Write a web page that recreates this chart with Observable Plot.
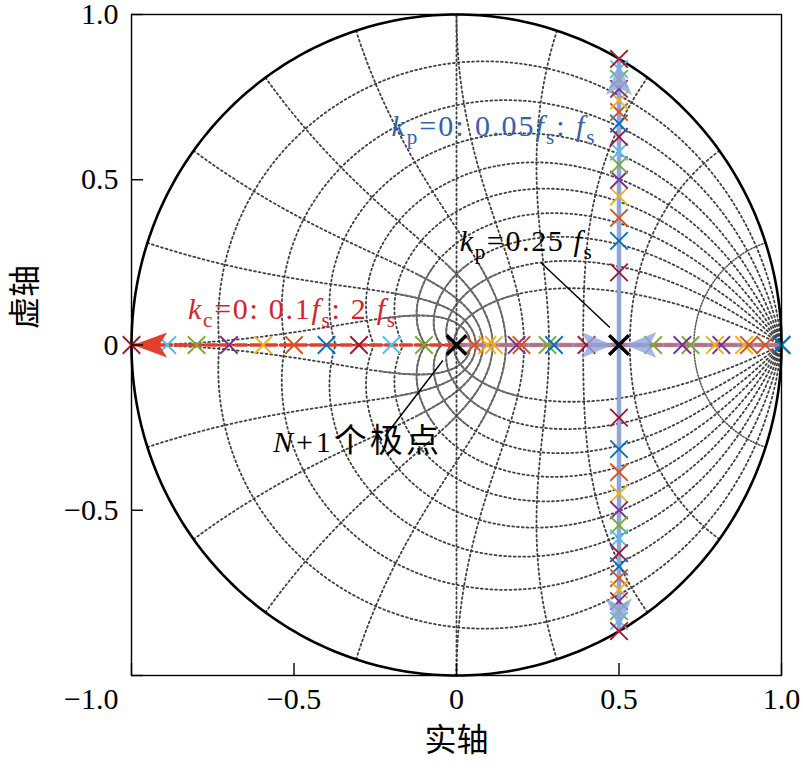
<!DOCTYPE html>
<html><head><meta charset="utf-8">
<script src="https://cdn.jsdelivr.net/npm/d3@7"></script>
<script src="https://cdn.jsdelivr.net/npm/@observablehq/plot@0.6"></script>
<style>html,body{margin:0;padding:0;background:#fff;overflow:hidden;} text{white-space:pre;}</style>
</head><body><div id="chart"></div>
<script>
// ---------------- data ----------------
const matlabColors = ["#0072BD","#D95319","#EDB120","#7E2F8E","#77AC30","#4DBEEE","#A2142F"];
// k_c = step × 0.1 f_s : one pole moving along the real axis
const kcSteps  = [0,1,2,3,4,5,6,7,8,9,10,11,12,13,14,15,16,17,18,19,20];
const kcPoleRe = [1.0,0.9,0.795,0.695,0.605,0.5,0.4,0.3,0.2,0.095,0.0,-0.1,-0.2,-0.3,-0.4,-0.5,-0.595,-0.7,-0.8,-0.89,-1.0];
// k_p = step × 0.05 f_s : two real poles, then a complex pair
const kpRealSteps = [0,1,2,3,4];
const kpRealLow   = [0.0,0.055,0.115,0.185,0.28];
const kpRealHigh  = [1.0,0.95,0.885,0.815,0.72];
const kpBreakaway = 0.5;
const kpImagSteps = [6,7,8,9,10,11,12,13,14,15,16,17,18,19,20];
const kpImag      = [0.22,0.315,0.385,0.45,0.5,0.545,0.585,0.63,0.67,0.705,0.74,0.775,0.805,0.835,0.866];
// highlighted poles (black): N+1 poles at the origin, kp = 0.25 fs
const blackRe = [0, 0.5];
const blackIm = [0, 0];
// arrowheads on the loci (tip position, direction)
const kpArrowRe  = [0.48, 0.52, 0.5, 0.5];
const kpArrowIm  = [0, 0, 0.85, -0.86];
const kpArrowDir = ["right","left","up","down"];
const kcArrowRe  = [-0.995];
const kcArrowIm  = [0];
const kcArrowDir = ["left"];
// axes
const xTicks = [-1,-0.5,0,0.5,1];
const xTickLabels = ["−1.0","−0.5","0","0.5","1.0"];
const yTicks = [-1,-0.5,0,0.5,1];
const yLabelTicks = [-0.5,0,0.5,1];
const yTickLabels = ["−0.5","0","0.5","1.0"];
// z-plane grid (zgrid) parameters
const zetaGrid = [0.1,0.2,0.3,0.4,0.5,0.6,0.7,0.8,0.9];
const wnGrid   = [0.1,0.2,0.3,0.4,0.5,0.6,0.7,0.8,0.9,1.0]; // × π/T

// ---------------- derived tables ----------------
const kcMarks = kcSteps.map((s,i) => ({x: kcPoleRe[i], y: 0, c: s % 7}));
const kpMarks = [];
kpRealSteps.forEach((s,i) => {
  kpMarks.push({x: kpRealLow[i], y: 0, c: s % 7});
  kpMarks.push({x: kpRealHigh[i], y: 0, c: s % 7});
});
kpImagSteps.forEach((s,i) => {
  kpMarks.push({x: kpBreakaway, y: kpImag[i], c: s % 7});
  kpMarks.push({x: kpBreakaway, y: -kpImag[i], c: s % 7});
});
const allMarks = kpMarks.concat(kcMarks);
const blackMarks = blackRe.map((x,i) => ({x, y: blackIm[i]}));

const kcPath = kcPoleRe.map(x => ({x, y: 0}));
const kpPath = [];
kpRealLow.concat([kpBreakaway]).forEach(x => kpPath.push({b:"low", x, y:0}));
kpRealHigh.concat([kpBreakaway]).forEach(x => kpPath.push({b:"high", x, y:0}));
[0].concat(kpImag).forEach(v => kpPath.push({b:"up", x:kpBreakaway, y:v}));
[0].concat(kpImag).forEach(v => kpPath.push({b:"down", x:kpBreakaway, y:-v}));

const kpArrows = kpArrowRe.map((x,i) => ({x, y: kpArrowIm[i], dir: kpArrowDir[i]}));
const kcArrows = kcArrowRe.map((x,i) => ({x, y: kcArrowIm[i], dir: kcArrowDir[i]}));

// grid geometry
const unitCircle = d3.range(0, 361).map(a => ({x: Math.cos(a*Math.PI/180), y: Math.sin(a*Math.PI/180)}));
const gridPts = [];
let gid = 0;
const N = 400;
for (const zeta of zetaGrid) {
  const m = zeta / Math.sqrt(1 - zeta*zeta);
  for (const sg of [1,-1]) {
    gid++;
    for (let k = 0; k <= N; k++) {
      const th = Math.PI * k / N, r = Math.exp(-m*th);
      gridPts.push({id: gid, fine: false, x: r*Math.cos(th), y: sg*r*Math.sin(th), solid: zeta > 0.55 && r < 0.25});
    }
  }
}
for (const wn of wnGrid) {
  const w = wn * Math.PI;
  for (const sg of [1,-1]) {
    gid++;
    for (let k = 0; k <= N; k++) {
      const ph = Math.PI/2 + Math.PI/2 * k / N, r = Math.exp(w*Math.cos(ph)), a = w*Math.sin(ph);
      gridPts.push({id: gid, fine: wn < 0.15, x: r*Math.cos(a), y: sg*r*Math.sin(a), solid: wn > 0.55 && r < 0.25});
    }
  }
}
const axisLines = [{id:"v", x:0, y:-1},{id:"v", x:0, y:1},{id:"h", x:-1, y:0},{id:"h", x:1, y:0}];

function arrowHead(dir, len, half, notch) {
  const a = {right: 0, left: Math.PI, up: -Math.PI/2, down: Math.PI/2}[dir];
  const ux = Math.cos(a), uy = Math.sin(a), px = -uy, py = ux;
  return {draw(ctx) {
    ctx.moveTo(0, 0);
    ctx.lineTo(-len*ux + half*px, -len*uy + half*py);
    ctx.lineTo(-(len-notch)*ux, -(len-notch)*uy);
    ctx.lineTo(-len*ux - half*px, -len*uy - half*py);
    ctx.closePath();
  }};
}

const serif = "'Liberation Serif','Times New Roman','Noto Sans CJK SC',serif";
const lav = "#8FA6DD";
const red = "#E2402D";
const W = 803, H = 774, ML = 131, MR = 22, MT = 14, MB = 99;
const PW = W - ML - MR, PH = H - MT - MB;
const FS = 30;

const chart = Plot.plot({
  width: W, height: H, marginLeft: ML, marginRight: MR, marginTop: MT, marginBottom: MB,
  x: {domain: [-1, 1], axis: null},
  y: {domain: [-1, 1], axis: null},
  color: {type: "ordinal", domain: [0,1,2,3,4,5,6], range: matlabColors},
  style: {fontFamily: serif, background: "white", overflow: "visible"},
  marks: [
    // zgrid
    Plot.line(gridPts, {filter: d => !d.fine, x: "x", y: "y", z: "id", stroke: "#404040", strokeWidth: 1.8, strokeDasharray: "1.8,3"}),
    Plot.line(gridPts, {filter: d => d.fine, x: "x", y: "y", z: "id", stroke: "#505050", strokeWidth: 1.5, strokeDasharray: "1.3,1.7"}),
    Plot.line(gridPts, {x: d => d.solid ? d.x : NaN, y: "y", z: "id", stroke: "#6a6a6a", strokeWidth: 1.7}),
    Plot.line(axisLines, {x: "x", y: "y", z: "id", stroke: "#404040", strokeWidth: 1.8, strokeDasharray: "1.8,3"}),
    Plot.line(unitCircle, {x: "x", y: "y", stroke: "black", strokeWidth: 2.6}),
    // loci
    Plot.line(kpPath, {x: "x", y: "y", z: "b", stroke: lav, strokeWidth: 4.5}),
    Plot.line(kcPath, {filter: d => d.x >= 0, x: "x", y: "y", stroke: red, strokeOpacity: 0.55, strokeWidth: 3.5, strokeDasharray: "11,4"}),
    Plot.line(kcPath, {filter: d => d.x <= 0, x: "x", y: "y", stroke: red, strokeWidth: 3.5, strokeDasharray: "11,4"}),
    // pole markers
    Plot.dot(allMarks, {x: "x", y: "y", stroke: "c", symbol: "times", r: 8, strokeWidth: 1.8}),
    // arrowheads
    ...["right","left","up","down"].map(dir => Plot.dot(kpArrows, {filter: d => d.dir === dir, x: "x", y: "y", r: 10,
        symbol: arrowHead(dir, 31, 13, 7), fill: lav, fillOpacity: 0.8})),
    Plot.dot(kcArrows, {x: "x", y: "y", r: 10, symbol: arrowHead("left", 34, 12.5, 8), fill: red}),
    Plot.dot(blackMarks, {x: "x", y: "y", stroke: "black", symbol: "times", r: 9, strokeWidth: 3.5}),
    // annotations
    Plot.link([0], {x1: 0.26, y1: 0.249, x2: 0.472, y2: 0.053, stroke: "black", strokeWidth: 1.5}),
    Plot.link([0], {x1: -0.22, y1: -0.276, x2: -0.042, y2: -0.047, stroke: "black", strokeWidth: 1.5}),
    Plot.text([0], {x: -0.826, y: 0.08, text: () => "@KC@", textAnchor: "start", lineAnchor: "bottom", fontSize: 30, fill: "#D4232B"}),
    Plot.text([0], {x: -0.2, y: 0.633, text: () => "@KP@", textAnchor: "start", lineAnchor: "bottom", fontSize: 30, fill: "#3462AA"}),
    Plot.text([0], {x: 0.01, y: 0.285, text: () => "@KP25@", textAnchor: "start", lineAnchor: "bottom", fontSize: 30, fill: "black"}),
    Plot.text([0], {x: -0.565, y: -0.325, text: () => "@N@", textAnchor: "start", lineAnchor: "bottom", fontSize: 30, fill: "black"}),
    // frame, ticks, tick labels, axis titles
    Plot.frame({stroke: "black", strokeWidth: 1.4}),
    Plot.ruleX(xTicks, {x: d => d, insetTop: PH - 12, stroke: "black", strokeWidth: 1.4}),
    Plot.ruleY(yTicks, {y: d => d, insetRight: PW - 12, stroke: "black", strokeWidth: 1.4}),
    Plot.text(xTicks, {filter: d => d > -1, x: d => d, frameAnchor: "bottom", dy: 33, text: (d,i) => xTickLabels[i], fontSize: FS, fill: "black"}),
    Plot.text(xTicks, {filter: d => d === -1, x: d => d, frameAnchor: "bottom", dy: 33, dx: -13, textAnchor: "end", text: (d,i) => xTickLabels[i], fontSize: FS, fill: "black"}),
    Plot.text(yLabelTicks, {y: d => d, frameAnchor: "left", dx: -13, textAnchor: "end", text: (d,i) => yTickLabels[i], fontSize: FS, fill: "black"}),
    Plot.text(["实轴"], {frameAnchor: "bottom", dy: 75, text: d => d, fontSize: 32, fill: "black"}),
    Plot.text(["虚轴"], {frameAnchor: "left", dx: -106, dy: -16, rotate: -90, text: d => d, fontSize: 32, fill: "black"})
  ]
});

// rich text for the annotations (italic variables, subscripts)
function rich(placeholder, parts, len) {
  const t = d3.select(chart).selectAll("text").filter(function() { return this.textContent === placeholder; });
  t.text(null);
  let shifted = false;
  for (const p of parts) {
    const s = t.append("tspan").text(p.t);
    if (p.i) s.attr("font-style", "italic");
    if (p.fs) s.attr("font-size", p.fs + "px");
    if (p.sub) { s.attr("font-size", "21px"); if (!shifted) { s.attr("dy", 8); shifted = true; } }
    else if (shifted) { s.attr("dy", -8); shifted = false; }
  }
  if (len) t.attr("textLength", len).attr("lengthAdjust", "spacing");
}
rich("@KC@", [{t:"k",i:1},{t:"c",sub:1},{t:"=0: 0.1"},{t:"f",i:1},{t:"s",sub:1},{t:": 2 "},{t:"f",i:1},{t:"s",sub:1}], 207);
rich("@KP@", [{t:"k",i:1},{t:"p",sub:1},{t:"=0: 0.05"},{t:"f",i:1},{t:"s",sub:1},{t:": "},{t:"f",i:1},{t:"s",sub:1}], 203);
rich("@KP25@", [{t:"k",i:1},{t:"p",sub:1},{t:"=0.25 "},{t:"f",i:1},{t:"s",sub:1}], 132);
rich("@N@", [{t:"N",i:1},{t:"+1"},{t:"个极点", fs: 33}], 166);

document.getElementById("chart").appendChild(chart);
</script>
</body></html>
